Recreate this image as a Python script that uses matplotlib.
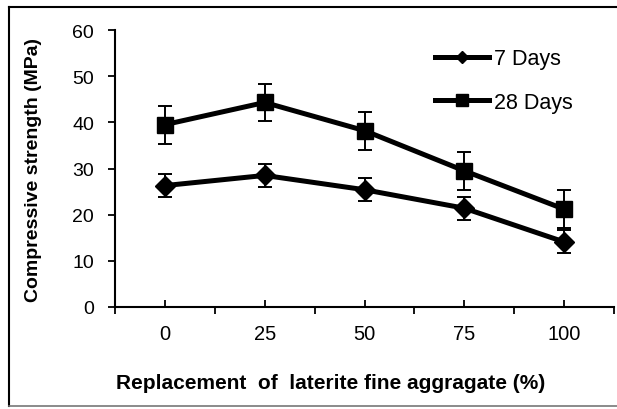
import matplotlib
matplotlib.use("Agg")
import matplotlib.pyplot as plt
from matplotlib.lines import Line2D

plt.rcParams['font.family'] = ['Liberation Sans', 'DejaVu Sans']

categories = ["0", "25", "50", "75", "100"]
days7 = [26.3, 28.5, 25.4, 21.4, 14.1]
days7_err = [2.5, 2.5, 2.5, 2.5, 2.5]
days28 = [39.5, 44.3, 38.2, 29.5, 21.2]
days28_err = [4.1, 4.1, 4.1, 4.1, 4.1]
yticks = [0, 10, 20, 30, 40, 50, 60]

W, H = 617, 410
fig = plt.figure(figsize=(W/100, H/100), dpi=100)
ax = fig.add_axes([115/W, 1-308/H, (614-115)/W, (308-31)/H])

x = list(range(len(categories)))
ax.errorbar(x, days7, yerr=days7_err, color='black', lw=3.6, marker='D', ms=10,
            ecolor='black', elinewidth=1.4, capsize=5, capthick=1.4, label='7 Days')
ax.errorbar(x, days28, yerr=days28_err, color='black', lw=3.6, marker='s', ms=11,
            ecolor='black', elinewidth=1.4, capsize=5, capthick=1.4, label='28 Days')

ax.set_xlim(-0.5, len(categories) - 0.5)
ax.set_ylim(0, 60)
ax.set_yticks(yticks)
ax.set_yticklabels([str(v) for v in yticks], fontsize=14)
ax.set_xticks([i - 0.5 for i in range(len(categories) + 1)])
ax.set_xticklabels([''] * (len(categories) + 1))
ax.set_xticks(x, minor=True)
ax.set_xticklabels(categories, minor=True, fontsize=14.5)
ax.tick_params(axis='x', which='major', direction='out', length=5, width=1.3)
ax.tick_params(axis='x', which='minor', direction='in', length=5, width=1.3, pad=12)
ax.tick_params(axis='y', direction='out', length=5, width=1.3, pad=10)
for s in ['top', 'right']:
    ax.spines[s].set_visible(False)
for s in ['left', 'bottom']:
    ax.spines[s].set_linewidth(1.5)

ax.set_ylabel('Compressive strength (MPa)', fontsize=14, fontweight='bold')
ax.yaxis.set_label_coords(-0.146, 0.5)
ax.set_xlabel('Replacement  of  laterite fine aggragate (%)', fontsize=15, fontweight='bold')
ax.xaxis.set_label_coords(0.433, -0.24)

handles = [Line2D([], [], color='black', lw=3.6, marker='D', ms=6),
           Line2D([], [], color='black', lw=3.6, marker='s', ms=8)]
ax.legend(handles, ['7 Days', '28 Days'], loc='upper left',
          bbox_to_anchor=(416/W, 1-30/H), bbox_transform=fig.transFigure,
          frameon=False, fontsize=15.5, handlelength=2.5, handletextpad=0.2,
          labelspacing=1.05)

# outer frame
fig.add_artist(Line2D([9/W, 9/W], [1-8/H, 1-407/H], transform=fig.transFigure, color='black', lw=1.5))
fig.add_artist(Line2D([9/W, 1], [1-8/H, 1-8/H], transform=fig.transFigure, color='black', lw=1.5))
fig.add_artist(Line2D([9/W, 1], [1-407/H, 1-407/H], transform=fig.transFigure, color='#777777', lw=1.2))

fig.savefig('out.png', dpi=100)
